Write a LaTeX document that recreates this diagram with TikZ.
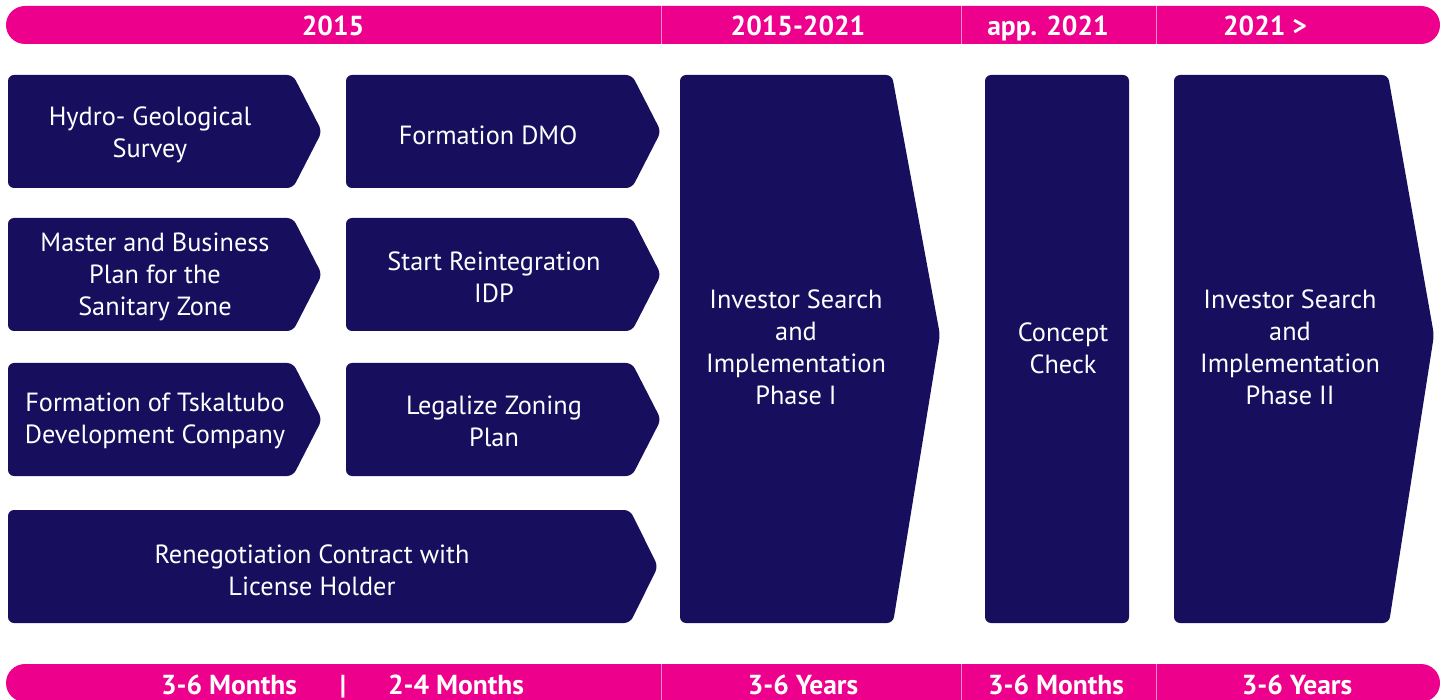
\documentclass[tikz,border=0pt]{standalone}
\usepackage{fontspec}
\setmainfont{PT Sans}
\usetikzlibrary{positioning}
\definecolor{roadPink}{RGB}{236,0,140}
\definecolor{roadNavy}{RGB}{23,15,94}
\tikzset{
	block/.style    = {fill=roadNavy, rounded corners=6pt},
	bar/.style      = {fill=roadPink, rounded corners=19pt},
	divider/.style  = {draw=roadPink!45!white, line width=0.8pt},
	blocktext/.style = {text=white, align=center,
		font=\fontsize{26.3}{32}\selectfont},
	bartext/.style  = {text=white, anchor=base, inner sep=0pt,
		font=\bfseries\fontsize{27.5}{32}\selectfont},
}

\begin{document}
\begin{tikzpicture}[ x=1pt,
                       y=-1pt                          %<--pixel grid, y running down
                       ]
    \useasboundingbox (0,0) rectangle (1448,700);
    \clip (0,0) rectangle (1448,700);

    %-- Time bars --%
    \fill[bar] (6,6)   rectangle (1440,44);
    \fill[bar] (6,664) rectangle (1440,702);
    \draw[divider] (661,6)    -- (661,44);
    \draw[divider] (961,6)    -- (961,44);
    \draw[divider] (1156,6)   -- (1156,44);
    \draw[divider] (661,664)  -- (661,702);
    \draw[divider] (961,664)  -- (961,702);
    \draw[divider] (1156,664) -- (1156,702);

    %-- Blocks creation --%
    % FIRST COLUMN %
    \fill[block] (8,75)  -- (293,75)  -- (322,131.5) -- (293,188) -- (8,188) -- cycle;
    \fill[block] (8,218) -- (293,218) -- (322,274.5) -- (293,331) -- (8,331) -- cycle;
    \fill[block] (8,363) -- (293,363) -- (322,419.5) -- (293,476) -- (8,476) -- cycle;
    % SECOND COLUMN %
    \fill[block] (346,75)  -- (632,75)  -- (661,131.5) -- (632,188) -- (346,188) -- cycle;
    \fill[block] (346,218) -- (632,218) -- (661,274.5) -- (632,331) -- (346,331) -- cycle;
    \fill[block] (346,363) -- (632,363) -- (661,419.5) -- (632,476) -- (346,476) -- cycle;
    % CONTRACT %
    \fill[block] (8,510) -- (630,510) -- (658,566.5) -- (630,623) -- (8,623) -- cycle;
    % PHASES %
    \fill[block] (680,75)  -- (892,75)  -- (940,335)  -- (893,623)  -- (680,623)  -- cycle;
    \fill[block] (985,75)  rectangle (1129,623);
    \fill[block] (1174,75) -- (1388,75) -- (1434,335) -- (1389,623) -- (1174,623) -- cycle;

    %-- Block texts --%
    \draw
      node(hydroSurvey)   at (150,135) [blocktext] {Hydro- Geological\\Survey}
      node(masterPlan)    at (155,277) [blocktext] {Master and Business\\Plan for the\\Sanitary Zone}
      node(tdcFormation)  at (155,421) [blocktext] {Formation of Tskaltubo\\Development Company}
      node(dmoFormation)  at (488,135) [blocktext] {Formation DMO}
      node(idpStart)      at (494,277) [blocktext] {Start Reintegration\\IDP}
      node(zoningPlan)    at (494,421) [blocktext] {Legalize Zoning\\Plan}
      node(contract)      at (312,570) [blocktext] {Renegotiation Contract with\\License Holder}
      node(phaseOne)      at (796,347) [blocktext] {Investor Search\\and\\Implementation\\Phase I}
      node(conceptCheck)  at (1063,348) [blocktext] {Concept\\Check}
      node(phaseTwo)      at (1290,347) [blocktext] {Investor Search\\and\\Implementation\\Phase II}
    ;

    %-- Bar texts --%
    \draw
      node(yearStart)     at (333,36)   [bartext] {2015}
      node(yearRange)     at (798,36)   [bartext] {2015-2021}
      node(yearCheck)     at (1048,36)  [bartext] {app. 2021}
      node(yearLater)     at (1265,36)  [bartext] {2021 >}
      node(durFirst)      at (229,694)  [bartext] {3-6 Months}
      node(durSep)        at (343,694)  [bartext] {|}
      node(durSecond)     at (456,694)  [bartext] {2-4 Months}
      node(durPhaseOne)   at (803,694)  [bartext] {3-6 Years}
      node(durCheck)      at (1056,694) [bartext] {3-6 Months}
      node(durPhaseTwo)   at (1297,694) [bartext] {3-6 Years}
    ;

\end{tikzpicture}
\end{document}
